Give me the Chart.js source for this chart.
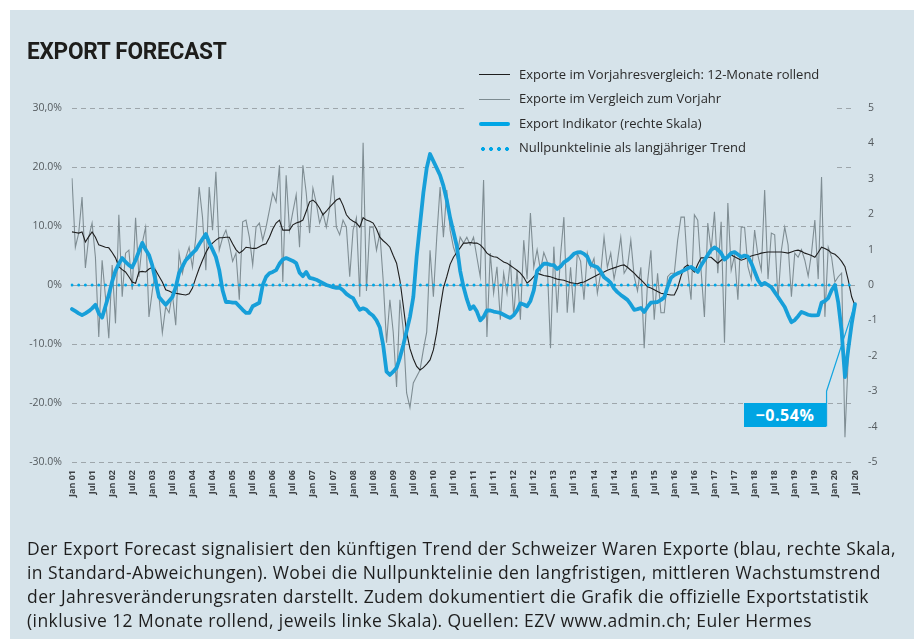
<!DOCTYPE html>
<html><head><meta charset="utf-8">
<script src="https://cdn.jsdelivr.net/npm/chart.js@4/dist/chart.umd.min.js"></script>
<style>
html,body{margin:0;padding:0;background:#fff;}
#wrap{position:relative;width:914px;height:639px;overflow:hidden;background:#fff;}
#panel{position:absolute;left:10px;top:10px;right:0;bottom:0;background:#d6e3ea;}
canvas{position:absolute;left:0;top:0;}
#title{position:absolute;left:27px;top:36px;font-family:"Roboto";font-weight:700;font-size:24.5px;color:#1d1d1b;letter-spacing:-0.3px;white-space:nowrap;transform:scaleX(0.925);transform-origin:0 0;}
.lg{position:absolute;left:519px;font-family:"Open Sans";font-size:13px;color:#2a2a2a;white-space:nowrap;line-height:16px;}
.sw{position:absolute;left:479px;width:31px;}
#cap{position:absolute;left:27px;top:536px;font-family:"Open Sans";font-size:17.5px;line-height:24px;color:#1e1e1e;white-space:nowrap;letter-spacing:0.42px;}
#box{position:absolute;left:744px;top:403px;width:82px;height:24px;background:#00a5e3;color:#fff;font-family:"Open Sans";font-weight:700;font-size:16px;line-height:24px;text-align:center;letter-spacing:0.6px;}
</style></head>
<body>
<div id="wrap">
<div id="panel"></div>
<canvas id="c" width="914" height="639"></canvas>
<div id="title">EXPORT FORECAST</div>
<div class="sw" style="top:74px;height:0;border-top:1.5px solid #1e1e1e;"></div>
<div class="lg" style="top:66px;">Exporte im Vorjahresvergleich: 12-Monate rollend</div>
<div class="sw" style="top:99px;height:0;border-top:1.2px solid #7d8b91;"></div>
<div class="lg" style="top:90px;">Exporte im Vergleich zum Vorjahr</div>
<div class="sw" style="top:122px;height:4px;border-radius:2px;background:#00a6e6;"></div>
<div class="lg" style="top:115px;">Export Indikator (rechte Skala)</div>
<div class="sw" style="top:147px;height:4px;background:radial-gradient(circle,#00a6e6 1.8px,transparent 2.2px) 0 0/8px 4px repeat-x;"></div>
<div class="lg" style="top:139px;">Nullpunktelinie als langjähriger Trend</div>
<div id="box">−0.54%</div>
<div id="cap">Der Export Forecast signalisiert den künftigen Trend der Schweizer Waren Exporte (blau, rechte Skala,<br>in Standard-Abweichungen). Wobei die Nullpunktelinie den langfristigen, mittleren Wachstumstrend<br>der Jahresveränderungsraten darstellt. Zudem dokumentiert die Grafik die offizielle Exportstatistik<br>(inklusive 12 Monate rollend, jeweils linke Skala). Quellen: EZV www.admin.ch; Euler Hermes</div>
</div>
<script>
// ---- data ----
const monthNames = ["Jan","Feb","Mar","Apr","May","Jun","Jul","Aug","Sep","Oct","Nov","Dec"];
const years = ["01","02","03","04","05","06","07","08","09","10","11","12","13","14","15","16","17","18","19","20"];
const months = [];
years.forEach(y => monthNames.forEach(m => months.push(m + " " + y)));
const categories = months.slice(0, 235); // Jan 01 .. Jul 20

// Export Indikator (rechte Skala)
const indikator = [
 -0.68,-0.74,-0.80,-0.85,-0.80,-0.74,-0.66,-0.56,-0.80,-0.92,-0.60,-0.28,
  0.10, 0.40, 0.60, 0.76, 0.65, 0.56, 0.50, 0.70, 0.95, 1.19, 1.00, 0.85,
  0.55, 0.10,-0.34,-0.45,-0.56,-0.45,-0.34,-0.06, 0.34, 0.52, 0.70, 0.80,
  0.90, 0.99, 1.15, 1.30, 1.44, 1.20, 1.00, 0.79, 0.42,-0.15,-0.48,-0.48,
 -0.50,-0.50,-0.60,-0.70,-0.79,-0.79,-0.60,-0.55,-0.50, 0.00, 0.23, 0.33,
  0.37, 0.42, 0.60, 0.72, 0.76, 0.72, 0.68, 0.62, 0.35, 0.25, 0.37, 0.20,
  0.18, 0.15, 0.10, 0.05, 0.00,-0.03,-0.06,-0.08,-0.08,-0.15,-0.25,-0.32,
 -0.37,-0.55,-0.70,-0.66,-0.70,-0.80,-0.87,-1.00,-1.20,-1.70,-2.45,-2.54,
 -2.45,-2.34,-2.05,-1.70,-1.30,-0.90,-0.34, 0.80, 1.70, 2.60, 3.30, 3.70,
  3.50, 3.30, 3.10, 2.80, 2.40, 1.90, 1.50, 1.10, 0.40,-0.05,-0.40,-0.68,
 -0.60,-0.75,-1.00,-0.90,-0.72,-0.72,-0.75,-0.77,-0.79,-0.84,-0.89,-0.93,
 -0.85,-0.72,-0.52,-0.55,-0.60,-0.45,-0.15, 0.40, 0.50, 0.60, 0.60, 0.57,
  0.56, 0.45, 0.52, 0.64, 0.70, 0.78, 0.88, 0.92, 0.93, 0.88, 0.80, 0.58,
  0.54, 0.50, 0.38, 0.22, 0.15, 0.06,-0.10,-0.20,-0.28,-0.35,-0.42,-0.55,
 -0.70,-0.68,-0.65,-0.76,-0.62,-0.50,-0.49,-0.48,-0.42,-0.35,-0.05, 0.20,
  0.28, 0.33, 0.37, 0.42, 0.47, 0.51, 0.45, 0.37, 0.55, 0.70, 0.85, 0.99,
  1.06, 1.00, 0.90, 0.72, 0.80, 0.90, 0.93, 0.86, 0.79, 0.83, 0.80, 0.62,
  0.38, 0.14, 0.00, 0.06, 0.00,-0.06,-0.20,-0.34,-0.48,-0.62,-0.85,-1.05,
 -0.99,-0.88,-0.76,-0.80,-0.84,-0.86,-0.86,-0.85,-0.50,-0.45,-0.37,-0.15,
  0.00,-0.50,-1.30,-2.60,-1.80,-1.10,-0.54
];

// Exporte im Vorjahresvergleich: 12-Monate rollend (%)
const rollend = [
  9.0, 8.9, 8.8, 9.0, 7.3, 8.2, 9.0, 8.1, 6.8, 6.6, 6.4, 6.3,
  5.5, 4.6, 3.1, 2.6, 2.2, 1.4, 0.5, 0.3, 2.2, 2.3, 2.2, 2.7,
  3.0, 2.5, 1.5, 0.5,-0.8,-1.0,-1.3,-1.4,-1.5,-1.6,-1.7,-1.5,
 -0.5, 1.2, 2.8, 4.2, 5.5, 6.5, 7.1, 7.6, 8.0, 8.0, 8.1, 8.1,
  7.0, 6.0, 5.4, 5.8, 6.4, 6.3, 6.2, 6.2, 6.5, 6.8, 7.0, 8.1,
  9.5,10.5,11.0, 9.3, 9.3, 9.3,10.2,10.5,10.7,11.0,12.5,14.1,
 14.4,13.9,13.0,11.9,12.5,13.2,13.8,14.4,14.7,13.5,11.9,11.2,
 10.8,10.5, 9.8,11.4,11.0,10.8,10.5, 9.5, 8.1, 7.5, 7.0, 6.4,
  5.0, 3.7, 0.8,-3.5,-8.0,-10.8,-12.5,-13.8,-14.4,-14.0,-13.4,-12.7,
-11.0,-8.0,-4.0,-0.5, 1.4, 3.5, 4.7, 5.5, 6.3, 7.1, 7.1, 7.2,
  7.1, 7.1, 6.8, 6.2, 5.4, 5.0, 4.8, 4.7, 4.3, 3.9, 3.7, 3.3,
  2.9, 2.5, 2.0, 1.3, 0.3, 0.8, 1.4, 2.0, 1.8, 1.6, 1.5, 1.4,
  1.2, 1.0, 0.9, 0.8, 0.6, 0.4, 0.3, 0.2, 0.4, 0.5, 0.8, 1.1,
  1.4, 1.7, 2.0, 2.2, 2.5, 2.7, 2.9, 3.1, 3.3, 3.4, 3.0, 2.5,
  2.0, 1.4, 0.9, 0.3,-0.3,-0.5,-0.8,-1.1,-1.4,-1.5,-1.6,-1.7,
 -1.7,-0.5, 1.5, 3.0, 3.4, 2.8, 2.2, 3.5, 4.6, 4.6, 4.7, 4.7,
  4.2, 3.7, 4.2, 4.6, 4.9, 5.1, 4.8, 4.5, 4.2, 4.4, 4.7, 4.9,
  5.1, 5.2, 5.4, 5.5, 5.6, 5.6, 5.6, 5.6, 5.6, 5.5, 5.4, 5.6,
  5.8, 5.9, 5.7, 5.4, 5.2, 5.0, 4.7, 5.5, 6.4, 6.2, 5.9, 5.4,
  5.2, 4.7, 4.0, 3.1, 0.8,-2.0,-3.5
];

// Exporte im Vergleich zum Vorjahr (%)
const vorjahr = [
 18.1, 6.4, 8.8,14.9, 2.9, 8.1,10.5, 4.7,-8.8, 4.2,-2.0,-9.0,
  3.4,-6.5,11.9,-2.0, 5.4, 5.9,-0.8,11.4, 1.4, 7.1, 9.8,-5.4,
 -1.0, 2.5,-2.0,-8.1,-3.7,-4.7,-1.5,-6.8, 5.4, 2.0, 4.7, 6.4,
  3.0, 8.1,16.6,11.5, 2.5,16.6, 9.3,19.2, 5.9, 8.0, 9.3, 7.0,
  4.0, 5.4,-2.5,10.7,11.0, 8.1, 3.4, 9.8,10.5, 7.6, 9.8,12.7,
 15.6,14.1,20.3, 0.5,18.6, 9.3,12.4,15.3, 6.4,20.3,15.6, 8.8,
 16.4,13.9,10.5,12.2, 9.8,13.0,18.6, 9.8, 8.5,11.0, 9.8, 1.4,
  9.3,11.4,-2.0,24.1,-1.0, 9.8, 9.8, 5.9, 8.8, 0.8,-9.8,-2.5,
 -8.0,-17.3,-2.5,-7.6,-18.3,-20.8,-16.6,-15.5,-14.4,-11.0,-8.0, 5.9,
 -2.0, 8.0,16.6, 8.1,16.1, 9.3, 6.4, 4.7, 8.1, 7.1, 8.1, 6.8,
  8.1, 4.7, 1.4,17.8,-8.8, 5.4,-1.4, 3.1,-5.9, 2.0,-1.4, 4.2,
 -5.4, 2.5,-5.9, 7.6, 1.0,12.2, 3.0, 6.0, 2.5, 5.5, 4.0,-10.7,
  6.5,-4.7, 5.0,11.5,-4.7, 3.0,-4.7, 5.4, 4.0,-2.5, 5.4, 3.0,
  4.5,-1.4, 2.0, 8.1, 3.0, 5.4, 1.0, 4.0, 8.1, 2.0, 3.0, 7.6,
  1.5,-1.0, 3.0,-10.7, 0.5, 5.9,-5.9, 2.0,-4.7,-4.7, 1.4, 2.0,
  2.0, 7.6,11.5,11.5, 2.5,-2.5,11.9,11.0, 2.5,-5.4,10.5, 5.9,
 12.4, 2.0,10.7,-9.8,13.9, 2.5, 5.0,-2.5, 9.8, 9.8, 3.1, 1.0,
  9.3, 5.0, 2.5,16.1, 1.0, 8.8, 8.5,-2.5, 5.9, 9.8, 6.8,-2.0,
  5.4, 4.7, 6.0, 4.2, 1.5, 5.4,11.0, 1.0,18.3,-5.4, 6.4, 4.7,
  0.5, 1.4, 2.0,-25.8,-12.0,-6.0,-3.0
];

// Nullpunktelinie (langjähriger Trend), rechte Skala
const trend = categories.map((c, i) => (i === 0 || i === 234) ? 0 : null);

const leftTicks = [-30, -20, -10, 0, 10, 20, 30];
const rightTicks = [-5, -4, -3, -2, -1, 0, 1, 2, 3, 4, 5];
const lastValueLabel = "−0.54%";

// ---- chart ----
const BG = "#d6e3ea";
const decor = {
  id: "decor",
  beforeDatasetsDraw(chart) {
    const {ctx, chartArea, scales} = chart;
    const y0 = scales.y.getPixelForValue(0);
    ctx.save();
    ctx.strokeStyle = "#9aa3a8"; ctx.lineWidth = 1;
    ctx.beginPath(); ctx.moveTo(chartArea.left, y0 + 0.5); ctx.lineTo(chartArea.right, y0 + 0.5); ctx.stroke();
    ctx.fillStyle = BG;
    ctx.fillRect(468, 58, 369, 116);
    ctx.restore();
  },
  afterDatasetsDraw(chart) {
    const {ctx, scales} = chart;
    const meta = chart.getDatasetMeta(3);
    const last = meta.data[meta.data.length - 1];
    const xl = scales.x.getPixelForValue(225.5);
    ctx.save();
    ctx.strokeStyle = "#14a5e0"; ctx.lineWidth = 1.2;
    ctx.beginPath();
    ctx.moveTo(xl, scales.y1.getPixelForValue(-4.0));
    ctx.lineTo(xl, scales.y1.getPixelForValue(-3.0));
    ctx.lineTo(last.x, last.y);
    ctx.stroke();
    ctx.restore();
  }
};

new Chart(document.getElementById("c"), {
  type: "line",
  data: {
    labels: categories,
    datasets: [
      { label: "Exporte im Vergleich zum Vorjahr", data: vorjahr, yAxisID: "y",
        borderColor: "#7f8d93", borderWidth: 1.1, pointRadius: 0, tension: 0, order: 4 },
      { label: "Exporte im Vorjahresvergleich: 12-Monate rollend", data: rollend, yAxisID: "y",
        borderColor: "#1e1e1e", borderWidth: 1.1, pointRadius: 0, tension: 0, order: 3 },
      { label: "Nullpunktelinie als langjähriger Trend", data: trend, yAxisID: "y1", spanGaps: true,
        borderColor: "#00a6e6", borderWidth: 3, borderDash: [0, 6.7], borderCapStyle: "round",
        pointRadius: 0, order: 2 },
      { label: "Export Indikator (rechte Skala)", data: indikator, yAxisID: "y1",
        borderColor: "#179fd9", borderWidth: 3.8, pointRadius: 0, tension: 0,
        borderJoinStyle: "round", borderCapStyle: "round", order: 1 }
    ]
  },
  options: {
    responsive: false, animation: false, devicePixelRatio: 1,
    layout: { padding: { top: 108, left: 0, right: 0, bottom: 0 } },
    plugins: { legend: { display: false }, tooltip: { enabled: false } },
    scales: {
      x: {
        offset: false,
        grid: { display: false, drawTicks: false },
        border: { display: false },
        ticks: {
          autoSkip: false, maxRotation: 90, minRotation: 90, padding: 8,
          color: "#3f4346", font: { family: "Open Sans", size: 9, weight: "bold" },
          callback: (v, i) => (i % 6 === 0 ? categories[i] : null)
        },
        afterFit: s => { s.height = 177; }
      },
      y: {
        position: "left", min: -30, max: 30,
        afterBuildTicks: s => { s.ticks = leftTicks.map(v => ({ value: v })); },
        grid: { color: "#9ea6ab", lineWidth: 1, drawTicks: false },
        border: { display: false, dash: [5, 4] },
        ticks: {
          padding: 10, color: "#555b5f", font: { family: "Open Sans", size: 10.5 },
          callback: v => v === 30 ? "30,0%" : (v === 0 ? "0%" : v.toFixed(1) + "%")
        },
        afterFit: s => { s.width = 72; }
      },
      y1: {
        position: "right", min: -5, max: 5,
        afterBuildTicks: s => { s.ticks = rightTicks.map(v => ({ value: v })); },
        grid: { display: false, drawTicks: false },
        border: { display: false },
        ticks: { padding: 13, color: "#555b5f", font: { family: "Open Sans", size: 10.5 } },
        afterFit: s => { s.width = 59; }
      }
    }
  },
  plugins: [decor]
});
</script>
</body></html>
